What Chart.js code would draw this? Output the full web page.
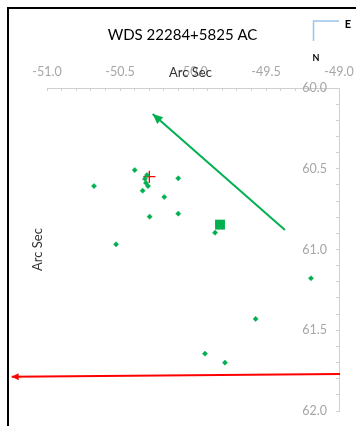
<!DOCTYPE html>
<html><head><meta charset="utf-8">
<script src="https://cdn.jsdelivr.net/npm/chart.js@4/dist/chart.umd.min.js"></script>
<style>
html,body{margin:0;padding:0;background:#fff;width:356px;height:426px;overflow:hidden}
#frame{position:absolute;left:7px;top:7px;width:420px;height:500px;border-left:2px solid #000;border-top:2px solid #000;box-sizing:border-box}
#wrap{position:absolute;left:0;top:0;width:356px;height:426px}
</style></head>
<body><div id="frame"></div><div id="wrap"><canvas id="c" width="356" height="426"></canvas></div>
<script>
// ---- data ----
const chartTitle = 'WDS 22284+5825 AC';
const axisTitle = 'Arc Sec';
const xTickLabels = ['-51.0','-50.5','-50.0','-49.5','-49.0'];
const yTickLabels = ['60.0','60.5','61.0','61.5','62.0'];
const measureX = [-50.399,-50.678,-50.315,-50.329,-50.322,-50.308,-50.101,-50.345,-50.197,-50.297,-50.101,-49.849,-50.527,-49.192,-49.571,-49.918,-49.781];
const measureY = [60.508,60.607,60.539,60.563,60.588,60.607,60.559,60.636,60.675,60.797,60.778,60.896,60.968,61.178,61.430,61.645,61.701];
const predictedX = [-49.815];
const predictedY = [60.846];
const primaryX = [-50.299];
const primaryY = [60.549];
const motionArrowX = [-49.370,-50.276];
const motionArrowY = [60.879,60.161];
const refArrowX = [-48.993,-51.242];
const refArrowY = [61.771,61.788];

const FONT = 'Lato, "Open Sans", sans-serif';
const GREEN = '#00b050';
const RED = '#ff0000';
const toPts = (xs, ys) => xs.map((x, i) => ({x, y: ys[i]}));
const halfLabel = (labels) => (v) => {
  const s = Number(v).toFixed(1);
  return labels.includes(s) ? s : '';
};

const arrowPlugin = {
  id: 'arrows',
  afterDatasetsDraw(chart) {
    const ctx = chart.ctx;
    chart.data.datasets.forEach((ds, i) => {
      if (!ds.arrowHead) return;
      const pts = chart.getDatasetMeta(i).data;
      const a = pts[pts.length - 2], b = pts[pts.length - 1];
      const ang = Math.atan2(b.y - a.y, b.x - a.x);
      const L = ds.arrowHead.len, W = ds.arrowHead.wid;
      ctx.save();
      ctx.fillStyle = ds.borderColor;
      ctx.beginPath();
      ctx.moveTo(b.x, b.y);
      ctx.lineTo(b.x - L * Math.cos(ang) + W * Math.sin(ang), b.y - L * Math.sin(ang) - W * Math.cos(ang));
      ctx.lineTo(b.x - L * Math.cos(ang) - W * Math.sin(ang), b.y - L * Math.sin(ang) + W * Math.cos(ang));
      ctx.closePath();
      ctx.fill();
      ctx.restore();
    });
  }
};

const textPlugin = {
  id: 'texts',
  afterDraw(chart) {
    const ctx = chart.ctx, ca = chart.chartArea;
    ctx.save();
    ctx.textAlign = 'center';
    ctx.textBaseline = 'middle';
    ctx.fillStyle = '#000';
    ctx.font = '15px ' + FONT;
    ctx.fillText(chartTitle, ca.left + 135.5, 35);
    ctx.fillStyle = '#333333';
    ctx.font = '13px ' + FONT;
    ctx.fillText(axisTitle, ca.left + 143.5, ca.top - 15);
    ctx.save();
    ctx.translate(38, (ca.top + ca.bottom) / 2);
    ctx.rotate(-Math.PI / 2);
    ctx.fillText(axisTitle, 0, 0);
    ctx.restore();
    // compass
    ctx.strokeStyle = '#9dc3e6';
    ctx.lineWidth = 1.5;
    ctx.beginPath();
    ctx.moveTo(339, 21); ctx.lineTo(313.5, 21); ctx.lineTo(313.5, 41);
    ctx.stroke();
    ctx.fillStyle = '#000';
    ctx.font = 'bold 11px ' + FONT;
    ctx.fillText('E', 348, 24);
    ctx.font = 'bold 9px ' + FONT;
    ctx.fillText('N', 316, 58);
    ctx.restore();
  }
};

new Chart(document.getElementById('c'), {
  type: 'scatter',
  data: {
    datasets: [
      {label: 'refArrow', data: toPts(refArrowX, refArrowY), showLine: true, borderColor: RED, borderWidth: 2, pointRadius: 0, clip: false, arrowHead: {len: 7, wid: 3.5}},
      {label: 'motion', data: toPts(motionArrowX, motionArrowY), showLine: true, borderColor: GREEN, borderWidth: 2, pointRadius: 0, clip: false, arrowHead: {len: 10, wid: 4.5}},
      {label: 'measures', data: toPts(measureX, measureY), pointStyle: 'rectRot', pointRadius: 2.6, backgroundColor: GREEN, borderColor: GREEN, borderWidth: 0.5},
      {label: 'predicted', data: toPts(predictedX, predictedY), pointStyle: 'rect', pointRadius: 7, backgroundColor: GREEN, borderColor: GREEN, borderWidth: 0},
      {label: 'primary', data: toPts(primaryX, primaryY), pointStyle: 'cross', pointRadius: 6, borderColor: RED, borderWidth: 1.3}
    ]
  },
  options: {
    responsive: false,
    animation: false,
    events: [],
    devicePixelRatio: 1,
    layout: {padding: {left: 47, top: 0, right: 0, bottom: 15}},
    plugins: {legend: {display: false}, title: {display: false}, tooltip: {enabled: false}},
    scales: {
      x: {
        type: 'linear', position: 'top', min: -51, max: -49,
        ticks: {stepSize: 0.1, autoSkip: false, maxRotation: 0, padding: 12, color: '#a6a6a6', font: {family: FONT, size: 12.5}, callback: halfLabel(xTickLabels)},
        grid: {drawOnChartArea: false, drawTicks: true, tickLength: -3, color: '#d0d0d0'},
        border: {color: '#d0d0d0', width: 1},
        afterFit: (s) => { s.height = 88; s.paddingLeft = 0; s.paddingRight = 0; }
      },
      y: {
        type: 'linear', position: 'right', reverse: true, min: 60, max: 62,
        ticks: {stepSize: 0.1, autoSkip: false, mirror: true, padding: -12, color: '#a6a6a6', font: {family: FONT, size: 12.5}, callback: halfLabel(yTickLabels)},
        grid: {drawOnChartArea: false, drawTicks: true, tickLength: -3, color: '#d0d0d0'},
        border: {color: '#d0d0d0', width: 1},
        afterFit: (s) => { s.width = 17; s.paddingTop = 0; s.paddingBottom = 0; }
      }
    }
  },
  plugins: [arrowPlugin, textPlugin]
});
</script>
</body></html>
